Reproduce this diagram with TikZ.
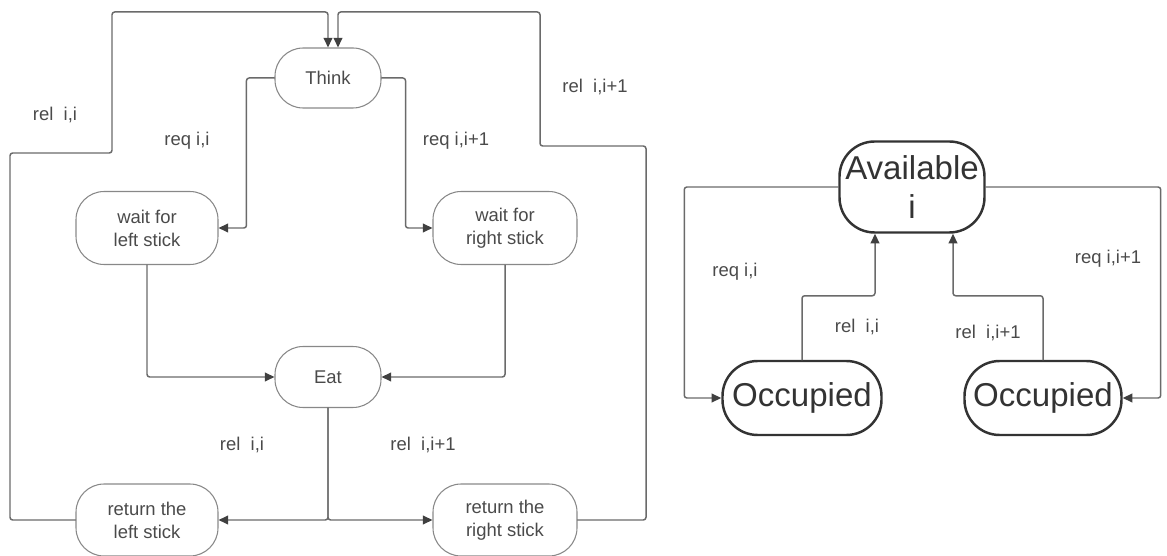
\documentclass[tikz,border=0pt]{standalone}
\usepackage{fontspec}
\setmainfont{Liberation Sans}
\usepackage{xcolor}
\usetikzlibrary{arrows.meta}
\definecolor{linegray}{HTML}{6A6A6A}
\definecolor{textgray}{HTML}{4A4A4A}
\tikzset{
  every picture/.style={line join=round, line cap=round,
    >={Triangle[length=5.5pt,width=5pt,color=black!75]}},
  phil/.style={draw=linegray!80, line width=0.6pt, rounded corners=16pt, align=center,
    text=textgray, font=\fontsize{10.5}{13}\selectfont, inner sep=0pt},
  fork/.style={draw=black!80, line width=1.4pt, rounded corners=20pt, align=center,
    text=black!80, font=\fontsize{18.8}{22}\selectfont, inner sep=0pt},
  flow/.style={->, draw=linegray, line width=0.85pt, rounded corners=1.5pt},
  lbl/.style={text=textgray, font=\fontsize{10.5}{13}\selectfont},
}

\begin{document}
\begin{tikzpicture}
\useasboundingbox (0,0) rectangle (23.34,-11.12);

% philosopher i
\node[phil, minimum width=2.12cm, minimum height=1.2cm] (think) at (6.56,-1.56) {Think};
\node[phil, minimum width=2.84cm, minimum height=1.46cm] (waitl) at (2.94,-4.56) {wait for\\left stick};
\node[phil, minimum width=2.88cm, minimum height=1.46cm] (waitr) at (10.10,-4.56) {wait for\\right stick};
\node[phil, minimum width=2.12cm, minimum height=1.22cm] (eat) at (6.56,-7.54) {Eat};
\node[phil, minimum width=2.84cm, minimum height=1.44cm] (retl) at (2.94,-10.40) {return the\\left stick};
\node[phil, minimum width=2.88cm, minimum height=1.44cm] (retr) at (10.10,-10.40) {return the\\right stick};

\draw[flow] (think.west) -- ++(-0.56,0) |- (waitl.east);
\draw[flow] (think.east) -- ++(0.48,0) |- (waitr.west);
\draw[flow] (waitl.south) |- (eat.west);
\draw[flow] (waitr.south) |- (eat.east);
\draw[flow] (eat.south) |- (retl.east);
\draw[flow] (eat.south) |- (retr.west);
\draw[flow] (retl.west) -| (0.2,-3.06) -| (2.24,-0.24) -| (think.north);
\draw[flow] (retr.east) -| (12.92,-2.92) -| (10.80,-0.24) -| ([xshift=0.2cm]think.north);

\node[lbl] (l1) at (1.10,-2.30) {rel~~i,i};
\node[lbl] (l2) at (3.74,-2.82) {req i,i};
\node[lbl] (l3) at (9.12,-2.82) {req i,i+1};
\node[lbl] (l4) at (11.90,-1.74) {rel~~i,i+1};
\node[lbl] (l5) at (4.84,-8.90) {rel~~i,i};
\node[lbl] (l6) at (8.46,-8.90) {rel~~i,i+1};

% chopstick i
\node[fork, minimum width=2.9cm, minimum height=1.82cm] (avail) at (18.24,-3.74) {Available\\i};
\node[fork, minimum width=3.18cm, minimum height=1.48cm] (occl) at (16.04,-7.96) {Occupied};
\node[fork, minimum width=3.14cm, minimum height=1.48cm] (occr) at (20.86,-7.96) {Occupied};

\draw[flow] (avail.west) -- ++(-3.08,0) |- (occl.west);
\draw[flow] (avail.east) -- ++(3.5,0) |- (occr.east);
\draw[flow] (occl.north) -- ++(0,1.28) -| ([xshift=-0.74cm]avail.south);
\draw[flow] (occr.north) -- ++(0,1.28) -| ([xshift=0.82cm]avail.south);

\node[lbl] (l7) at (14.70,-5.44) {req i,i};
\node[lbl] (l8) at (17.14,-6.54) {rel~~i,i};
\node[lbl] (l9) at (19.76,-6.66) {rel~~i,i+1};
\node[lbl] (l10) at (22.16,-5.18) {req i,i+1};
\end{tikzpicture}
\end{document}
